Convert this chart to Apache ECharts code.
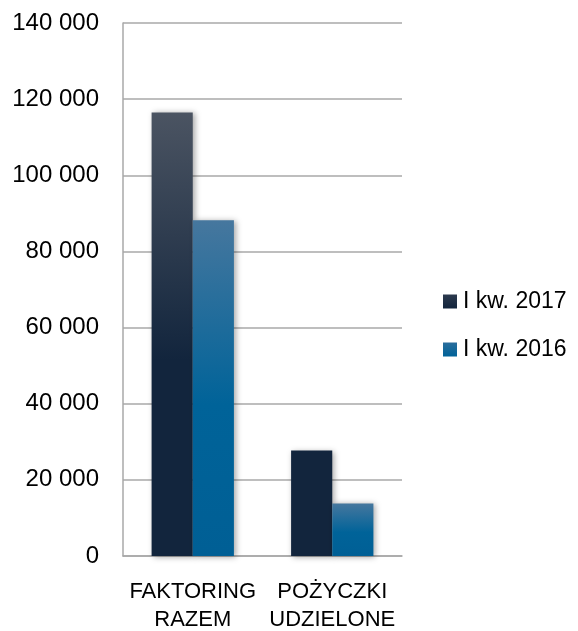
<!DOCTYPE html>
<html>
<head>
<meta charset="utf-8">
<script src="https://cdn.jsdelivr.net/npm/echarts@6/dist/echarts.min.js"></script>
<style>
  html, body { margin: 0; padding: 0; background: #fff; }
  #main { width: 578px; height: 631px; }
</style>
</head>
<body>
<div id="main"></div>
<script>
// dane
const categories = ['FAKTORING\nRAZEM', 'POŻYCZKI\nUDZIELONE']
const seriesNames = ['I kw. 2017', 'I kw. 2016']
const values2017 = [116500, 27700]
const values2016 = [88200, 13800]

const myChart = echarts.init(document.getElementById('main'))

const fontFamily = 'Liberation Sans, Arial, sans-serif'
const gridColor = '#a8a8a8'

const option = {
  animation: false,
  textStyle: { fontFamily: fontFamily },
  grid: {
    left: 123,
    top: 23,
    right: 176,
    bottom: 75,
    outerBoundsMode: 'none'
  },
  legend: {
    orient: 'vertical',
    left: 438,
    top: 285,
    icon: 'rect',
    itemWidth: 14,
    itemHeight: 14,
    itemGap: 25,
    textStyle: { fontSize: 23, color: '#000', fontFamily: fontFamily, padding: [0, 0, 0, 1] },
    data: [
      {
        name: seriesNames[0],
        itemStyle: {
          color: {
            type: 'linear', x: 0, y: 0, x2: 0, y2: 1,
            colorStops: [{ offset: 0, color: '#2c3a4e' }, { offset: 1, color: '#12253d' }]
          }
        }
      },
      {
        name: seriesNames[1],
        itemStyle: {
          color: {
            type: 'linear', x: 0, y: 0, x2: 0, y2: 1,
            colorStops: [{ offset: 0, color: '#2a6d9c' }, { offset: 1, color: '#006399' }]
          }
        }
      }
    ]
  },
  xAxis: {
    type: 'category',
    data: categories,
    axisTick: { show: false },
    axisLine: { lineStyle: { color: gridColor, width: 1.5 } },
    axisLabel: {
      interval: 0,
      color: '#000',
      fontSize: 22,
      lineHeight: 28,
      margin: 22
    }
  },
  yAxis: {
    type: 'value',
    min: 0,
    max: 140000,
    interval: 20000,
    axisLine: { show: true, lineStyle: { color: gridColor, width: 1.5 } },
    axisTick: { show: false },
    splitLine: { lineStyle: { color: gridColor, width: 1.5 } },
    axisLabel: {
      color: '#000',
      fontSize: 24,
      margin: 24,
      formatter: function (v) {
        return String(v).replace(/\B(?=(\d{3})+(?!\d))/g, ' ')
      }
    }
  },
  series: [
    {
      name: seriesNames[0],
      type: 'bar',
      data: values2017,
      barGap: '0%',
      barCategoryGap: '41%',
      itemStyle: {
        color: {
          type: 'linear',
          global: true,
          x: 0, y: 112, x2: 0, y2: 360,
          colorStops: [
            { offset: 0, color: '#4b5462' },
            { offset: 1, color: '#12253d' }
          ]
        },
        shadowBlur: 6,
        shadowColor: 'rgba(0,0,0,0.35)',
        shadowOffsetX: 2,
        shadowOffsetY: 1
      }
    },
    {
      name: seriesNames[1],
      type: 'bar',
      data: values2016,
      itemStyle: {
        color: {
          type: 'linear',
          x: 0, y: 0, x2: 0, y2: 1,
          colorStops: [
            { offset: 0, color: '#46779e' },
            { offset: 0.55, color: '#006399' },
            { offset: 1, color: '#005f95' }
          ]
        },
        shadowBlur: 6,
        shadowColor: 'rgba(0,0,0,0.35)',
        shadowOffsetX: 2,
        shadowOffsetY: 1
      }
    }
  ]
}

myChart.setOption(option)
</script>
</body>
</html>
